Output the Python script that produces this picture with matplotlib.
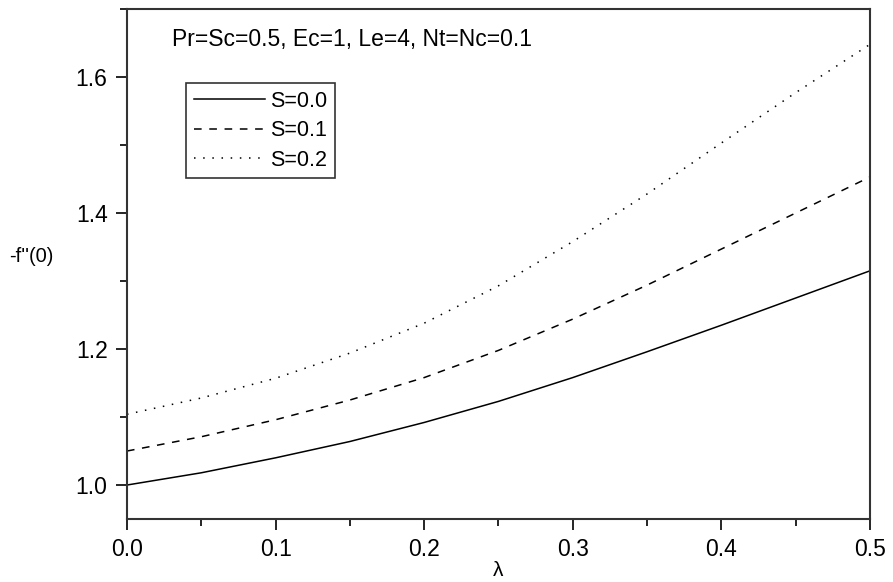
import numpy as np
import matplotlib.pyplot as plt
from matplotlib.ticker import MultipleLocator

plt.rcParams['font.family'] = ['Liberation Sans', 'DejaVu Sans']

lam = [0.0, 0.05, 0.1, 0.15, 0.2, 0.25, 0.3, 0.35, 0.4, 0.45, 0.5]
s00 = [1.000, 1.018, 1.040, 1.064, 1.092, 1.123, 1.158, 1.196, 1.235, 1.275, 1.315]
s01 = [1.050, 1.071, 1.096, 1.125, 1.158, 1.198, 1.244, 1.294, 1.347, 1.400, 1.453]
s02 = [1.104, 1.128, 1.157, 1.194, 1.238, 1.293, 1.358, 1.428, 1.503, 1.577, 1.648]

fig = plt.figure(figsize=(8.93, 5.82), dpi=100)
ax = fig.add_axes([0.1422, 0.1082, 0.832, 0.8763])

ax.plot(lam, s00, color='black', linestyle='-', linewidth=1.1, label='S=0.0')
ax.plot(lam, s01, color='black', linestyle=(0, (5, 5)), linewidth=1.1, label='S=0.1')
ax.plot(lam, s02, color='black', linestyle=(0, (1, 5)), linewidth=1.1, label='S=0.2')

ax.set_xlim(0, 0.5)
ax.set_ylim(0.95, 1.7)
ax.xaxis.set_minor_locator(MultipleLocator(0.05))
ax.yaxis.set_minor_locator(MultipleLocator(0.1))
ax.set_xticks([0.0, 0.1, 0.2, 0.3, 0.4, 0.5])
ax.set_xticklabels(['0.0', '0.1', '0.2', '0.3', '0.4', '0.5'])
ax.set_yticks([1.0, 1.2, 1.4, 1.6])
ax.set_yticklabels(['1.0', '1.2', '1.4', '1.6'])
ax.tick_params(which='major', direction='out', length=8, width=1.2, labelsize=16.5, pad=6)
ax.tick_params(which='minor', direction='out', length=5, width=1.2)
for sp in ax.spines.values():
    sp.set_linewidth(1.5)
    sp.set_color('#333333')

ax.set_xlabel('λ', fontsize=15, labelpad=0)
ax.set_ylabel("-f''(0)", fontsize=14.5, rotation=0, va='center', ha='left')
ax.yaxis.set_label_coords(-0.158, 0.515)

ax.text(0.0606, 0.927, 'Pr=Sc=0.5, Ec=1, Le=4, Nt=Nc=0.1', transform=ax.transAxes,
        fontsize=16.5, va='baseline', ha='left')

leg = ax.legend(loc='upper left', bbox_to_anchor=(0.0794, 0.855), fontsize=15.5,
                frameon=True, fancybox=False, handlelength=3.3, handletextpad=0.25,
                borderpad=0.35, labelspacing=0.4, borderaxespad=0)
leg.get_frame().set_edgecolor('black')
leg.get_frame().set_linewidth(1.2)

fig.savefig('out.png', dpi=100)
